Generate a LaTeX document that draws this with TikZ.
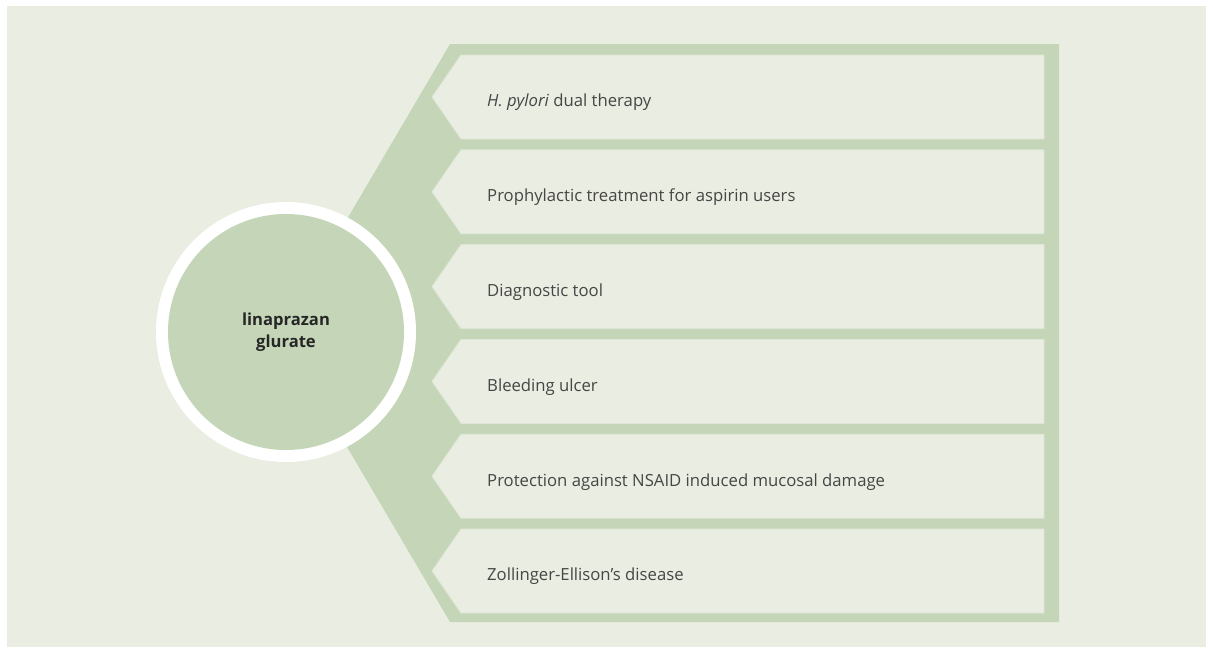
\documentclass[tikz,border=0pt]{standalone}
\usepackage{fontspec}
\setmainfont{Open Sans}
\definecolor{panel}{RGB}{234,237,225}
\definecolor{leaf}{RGB}{197,214,184}
\definecolor{boxline}{RGB}{222,230,214}
\definecolor{txt}{RGB}{70,70,70}
\definecolor{ctxt}{RGB}{38,38,38}
\tikzset{
  itembox/.style={fill=panel, draw=boxline, line width=0.8pt},
  itemtext/.style={anchor=west, text=txt, font=\fontsize{16.7}{19}\selectfont, inner sep=0pt},
}
\begin{document}
\begin{tikzpicture}[x=1pt,y=-1pt]
\useasboundingbox (0,0) rectangle (1213,653);
\fill[white] (0,0) rectangle (1213,653);
\fill[panel] (7,6) rectangle (1206,647);
% large green backing shape
\fill[leaf] (450,44) -- (1059,44) -- (1059,622) -- (450,622) -- (280,333) -- cycle;
% item boxes
\foreach \i/\t in {0/{\textit{H. pylori} dual therapy},
                   1/{Prophylactic treatment for aspirin users},
                   2/{Diagnostic tool},
                   3/{Bleeding ulcer},
                   4/{Protection against NSAID induced mucosal damage},
                   5/{Zollinger-Ellison’s disease}}{
  \pgfmathsetmacro{\top}{55+94.8*\i}
  \pgfmathsetmacro{\bot}{\top+84}
  \pgfmathsetmacro{\mid}{\top+42}
  \path[itembox] (1044,\top) -- (1044,\bot) -- (461,\bot) -- (432,\mid) -- (461,\top) -- cycle;
  \node[itemtext] (item\i) at (487,\mid+5.5) {\t};
}
% central circle
\fill[white] (286,332) circle[radius=130];
\node[circle, fill=leaf, minimum size=236pt, inner sep=0pt, align=center,
      text=ctxt, font=\bfseries\fontsize{16.6}{22}\selectfont] (drug) at (286,332)
      {linaprazan\\glurate};
\end{tikzpicture}
\end{document}
